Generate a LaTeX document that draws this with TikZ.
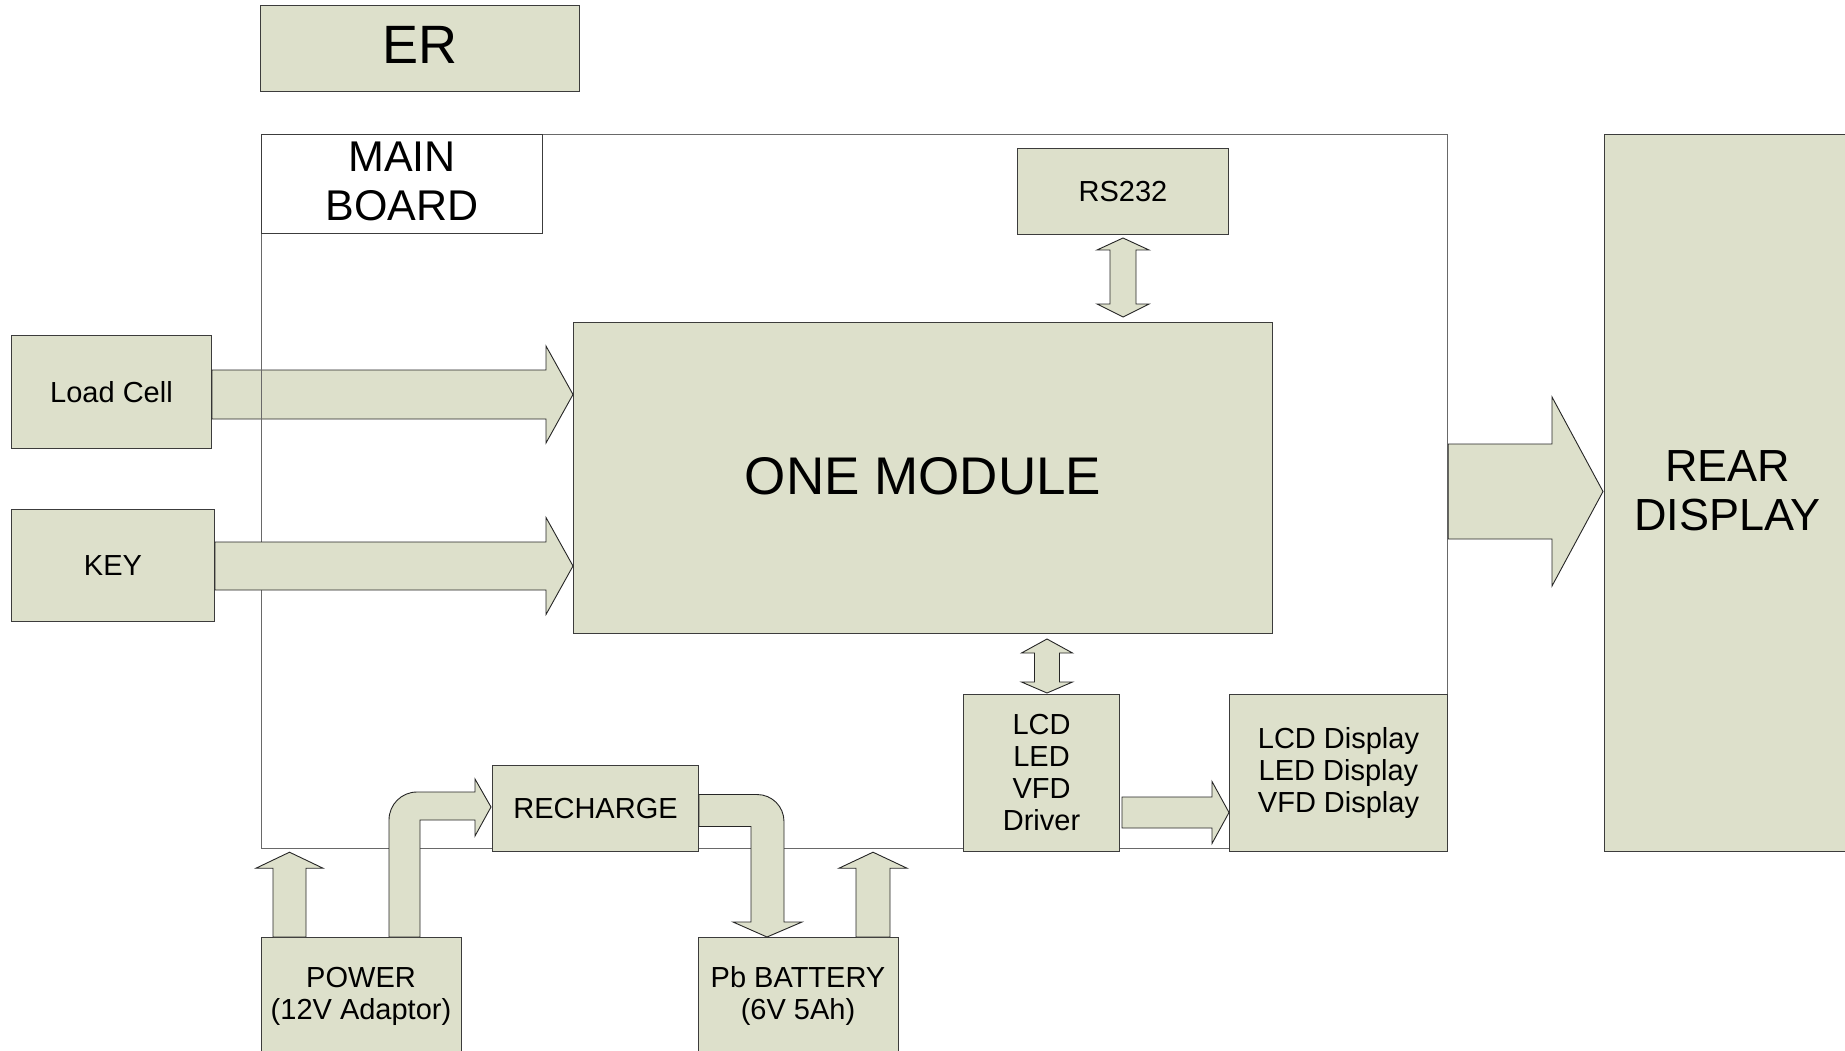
\documentclass[tikz,border=0pt]{standalone}
\usepackage{fontspec}
\setmainfont{Liberation Sans}
\usetikzlibrary{calc}
\definecolor{boxfill}{RGB}{221,224,203}
\definecolor{boxline}{RGB}{60,60,60}
\definecolor{frameline}{RGB}{105,105,105}
\newcommand\blockH[5]{%
  \draw[barrow] ($(#1)+(0,-#3)$) -- ($(#2)+(-#5,-#3)$) -- ($(#2)+(-#5,-#4)$) -- (#2)
    -- ($(#2)+(-#5,#4)$) -- ($(#2)+(-#5,#3)$) -- ($(#1)+(0,#3)$) -- cycle;}
\newcommand\blockUp[5]{%
  \draw[barrow] ($(#1)+(-#3,0)$) -- ($(#2)+(-#3,#5)$) -- ($(#2)+(-#4,#5)$) -- (#2)
    -- ($(#2)+(#4,#5)$) -- ($(#2)+(#3,#5)$) -- ($(#1)+(#3,0)$) -- cycle;}
\newcommand\blockUD[6]{%
  \draw[barrow] (#1) -- ($(#1)+(#4,#5)$) -- ($(#1)+(#3,#5)$) -- ($(#2)+(#3,-#6)$)
    -- ($(#2)+(#4,-#6)$) -- (#2) -- ($(#2)+(-#4,-#6)$) -- ($(#2)+(-#3,-#6)$)
    -- ($(#1)+(-#3,#5)$) -- ($(#1)+(-#4,#5)$) -- cycle;}
\begin{document}
\begin{tikzpicture}[x=1pt,y=-1pt,
  box/.style={draw=boxline, fill=boxfill, line width=1pt, inner sep=0pt, align=center, anchor=north west},
  barrow/.style={draw=black!85, fill=boxfill, line width=0.9pt, line join=miter},
  small/.style={font=\fontsize{29}{32}\selectfont},
  txt/.style={align=center, inner sep=0pt}]
\useasboundingbox (0,0) rectangle (1845,1051);
\clip (0,0) rectangle (1845,1051);
\fill[white] (0,0) rectangle (1845,1051);

% top ER box
\node[box, minimum width=319, minimum height=86, text depth=7pt, font=\fontsize{54}{60}\selectfont] (er) at (260,5) {ER};

% left inputs and central module
\node[box, small, minimum width=200, minimum height=113] (lc) at (11,335) {Load Cell};
\node[box, small, minimum width=203, minimum height=112] (key) at (11,509) {KEY};
\node[box, minimum width=699, minimum height=311, text depth=4pt, font=\fontsize{53}{60}\selectfont] (om) at (573,322) {ONE MODULE};

% load cell arrow (under the board frame line)
\coordinate (a1s) at (lc.east |- 0,394.5);
\coordinate (a1e) at (om.west |- 0,394.5);
\blockH{a1s}{a1e}{24.5}{48.5}{27}

% main board frame
\node[draw=frameline, line width=1.2pt, minimum width=1186, minimum height=714, anchor=north west, inner sep=0pt] (mb) at (261,134) {};
\node[draw=boxline, fill=white, line width=1pt, minimum width=281, minimum height=99, anchor=north west, inner sep=0pt, align=center, text depth=5pt, font=\fontsize{43}{49}\selectfont] (mbl) at (261,134) {MAIN\\BOARD};

% key arrow
\coordinate (a2s) at (key.east |- 0,566);
\coordinate (a2e) at (om.west |- 0,566);
\blockH{a2s}{a2e}{24}{48.5}{27}

% RS232
\node[box, small, minimum width=211, minimum height=86] (rs) at (1017,148) {RS232};
\coordinate (a3t) at ($(rs.south)+(0,3)$);
\coordinate (a3b) at ($(rs.south |- om.north)+(0,-5)$);
\blockUD{a3t}{a3b}{13}{26}{12}{13}

% rear display
\node[box, minimum width=246, minimum height=717, text depth=5pt, font=\fontsize{45}{49}\selectfont] (rear) at (1604,134) {REAR\\DISPLAY};
\coordinate (a4s) at (mb.east |- 0,491.5);
\coordinate (a4e) at ($(rear.west |- 0,491.5)+(-1,0)$);
\blockH{a4s}{a4e}{47.5}{94.5}{51}

% driver and displays
\node[box, small, minimum width=156, minimum height=157] (drv) at (963,694) {LCD\\LED\\VFD\\Driver};
\node[box, small, minimum width=218, minimum height=157] (disp) at (1229,694) {LCD Display\\LED Display\\VFD Display};
\coordinate (a5t) at ($(drv.north |- om.south)+(5.5,5)$);
\coordinate (a5b) at ($(drv.north)+(5.5,-1)$);
\blockUD{a5t}{a5b}{12.5}{25.5}{14}{11}
\coordinate (a6s) at ($(drv.east |- 0,812.5)+(2,0)$);
\coordinate (a6e) at (disp.west |- 0,812.5);
\blockH{a6s}{a6e}{15.5}{31}{17}

% power section
\node[box, minimum width=206, minimum height=86, small] (rec) at (492,765) {RECHARGE};
\node[box, minimum width=200, minimum height=130] (pwr) at (261,937) {};
\node[txt, small] (pwrt) at (361,996) {POWER\\(12V Adaptor)};
\node[box, minimum width=200, minimum height=130] (bat) at (698,937) {};
\node[txt, small] (batt) at (798,996) {Pb BATTERY\\(6V 5Ah)};

% power -> main board
\coordinate (a7s) at ($(pwr.north west)+(28.5,0)$);
\coordinate (a7e) at ($(pwr.north west |- mb.south)+(28.5,3)$);
\blockUp{a7s}{a7e}{16.5}{33.5}{16}
% battery -> main board
\coordinate (a8s) at ($(bat.north west)+(175,0)$);
\coordinate (a8e) at ($(bat.north west |- mb.south)+(175,3)$);
\blockUp{a8s}{a8e}{17}{34}{16}

% power -> recharge (bent)
\coordinate (b1) at ($(pwr.north west)+(128,0)$);
\coordinate (t1) at ($(rec.west |- 0,807)+(-1,0)$);
\draw[barrow] (b1) -- ($(b1 |- t1)+(0,13)$)
  .. controls ($(b1 |- t1)+(0,-2.5)$) and ($(b1 |- t1)+(12.5,-15)$) .. ($(b1 |- t1)+(28,-15)$)
  -- ($(t1)+(-16,-15)$) -- ($(t1)+(-16,-28)$) -- (t1) -- ($(t1)+(-16,29)$) -- ($(t1)+(-16,13)$)
  -- ($(b1 |- t1)+(31,13)$) -- ($(b1)+(31,0)$) -- cycle;

% recharge -> battery (bent)
\coordinate (s2) at ($(rec.east)+(0,2)$);
\coordinate (t2) at ($(bat.north west)+(69,0)$);
\draw[barrow] ($(s2)+(0,-16)$) -- ($(t2 |- s2)+(-10,-16)$)
  .. controls ($(t2 |- s2)+(5,-16)$) and ($(t2 |- s2)+(17,-4)$) .. ($(t2 |- s2)+(17,11)$)
  -- ($(t2)+(17,-15)$) -- ($(t2)+(35,-15)$) -- (t2) -- ($(t2)+(-34,-15)$) -- ($(t2)+(-16,-15)$)
  -- ($(t2 |- s2)+(-16,16)$) -- ($(s2)+(0,16)$) -- cycle;
\end{tikzpicture}
\end{document}
